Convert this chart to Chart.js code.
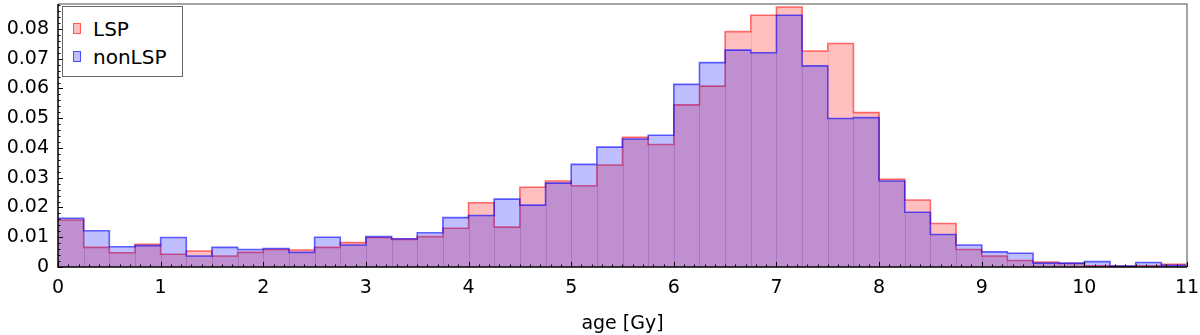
<!DOCTYPE html>
<html>
<head>
<meta charset="utf-8">
<script src="https://cdn.jsdelivr.net/npm/chart.js@4"></script>
<style>
  html, body { margin: 0; padding: 0; background: #fff; }
  #wrap { position: relative; width: 1200px; height: 335px; }
  #legend { position: absolute; left: 62px; top: 6px; width: 121px; height: 71px;
    border: 1.5px solid #666; background: #fff; font-family: "DejaVu Sans", sans-serif;
    font-size: 20px; color: #000; box-sizing: border-box; }
  .item { position: absolute; left: 10px; height: 24px; line-height: 24px; white-space: nowrap; }
  .sw { display: inline-block; width: 6px; height: 9px; border: 1.5px solid; vertical-align: middle; margin-right: 12px; position: relative; top: -2px; }
</style>
</head>
<body>
<div id="wrap">
  <canvas id="c" width="1200" height="335"></canvas>
  <div id="legend"></div>
</div>
<script>
// Bin left edges (Gy), bin width 0.25
const binStart = [0,0.25,0.5,0.75,1,1.25,1.5,1.75,2,2.25,2.5,2.75,3,3.25,3.5,3.75,4,4.25,4.5,4.75,
  5,5.25,5.5,5.75,6,6.25,6.5,6.75,7,7.25,7.5,7.75,8,8.25,8.5,8.75,9,9.25,9.5,9.75,10,10.25,10.5,10.75];
const binEnd = 11;
const lspValues = [0.0158,0.0066,0.0048,0.0076,0.0043,0.0054,0.0037,0.0049,0.0059,0.0057,
  0.0066,0.0082,0.0099,0.0093,0.0102,0.0130,0.0216,0.0134,0.0268,0.0289,
  0.0273,0.0343,0.0436,0.0412,0.0545,0.0608,0.0791,0.0846,0.0874,0.0726,
  0.0751,0.0519,0.0295,0.0225,0.0146,0.0059,0.0037,0.0022,0.0017,0.0012,
  0.0004,0.0003,0.0004,0.0009];
const nonLspValues = [0.0164,0.0122,0.0068,0.0072,0.0099,0.0037,0.0066,0.0059,0.0062,0.0049,
  0.0100,0.0074,0.0102,0.0095,0.0115,0.0166,0.0173,0.0228,0.0208,0.0282,
  0.0345,0.0403,0.0430,0.0443,0.0614,0.0687,0.0729,0.0720,0.0846,0.0676,
  0.0499,0.0502,0.0289,0.0184,0.0109,0.0074,0.0051,0.0046,0.0013,0.0013,
  0.0018,0.0003,0.0015,0.0006];
const xTicks = [0,1,2,3,4,5,6,7,8,9,10,11];
const yTicks = [0,0.01,0.02,0.03,0.04,0.05,0.06,0.07,0.08];
const seriesLabels = ['LSP', 'nonLSP'];
const xTitle = 'age [Gy]';

function stepData(vals) {
  const pts = binStart.map((x, i) => ({x: x, y: vals[i]}));
  pts.push({x: binEnd, y: vals[vals.length - 1]});
  return pts;
}

const FONT = {family: '"DejaVu Sans", sans-serif', size: 19};
const colors = [
  {line: 'rgba(255,0,0,0.55)', fill: 'rgba(255,0,0,0.25)', edge: 'rgba(200,0,0,0.10)'},
  {line: 'rgba(0,0,255,0.6)', fill: 'rgba(0,0,255,0.25)', edge: 'rgba(0,0,200,0.10)'}
];
const seriesVals = [lspValues, nonLspValues];

const decor = {
  id: 'decor',
  beforeDatasetsDraw(chart) {
    const ctx = chart.ctx, xs = chart.scales.x, ys = chart.scales.y;
    ctx.save();
    ctx.lineWidth = 1;
    seriesVals.forEach((vals, d) => {
      ctx.strokeStyle = colors[d].edge;
      for (let i = 1; i < binStart.length; i++) {
        const px = Math.round(xs.getPixelForValue(binStart[i])) + 0.5;
        const top = ys.getPixelForValue(Math.min(vals[i - 1], vals[i]));
        ctx.beginPath(); ctx.moveTo(px, ys.getPixelForValue(0)); ctx.lineTo(px, top); ctx.stroke();
      }
    });
    ctx.restore();
  },
  afterDatasetsDraw(chart) {
    const ctx = chart.ctx, a = chart.chartArea, xs = chart.scales.x, ys = chart.scales.y;
    ctx.save();
    ctx.strokeStyle = '#888'; ctx.lineWidth = 1.5;
    ctx.beginPath(); ctx.moveTo(a.left, a.top); ctx.lineTo(a.right, a.top); ctx.lineTo(a.right, a.bottom); ctx.stroke();
    ctx.strokeStyle = '#000'; ctx.lineWidth = 1;
    for (let v = 0; v <= 11.0001; v += 0.1) {
      const px = Math.round(xs.getPixelForValue(v)) + 0.5;
      const len = Math.abs(v - Math.round(v)) < 1e-6 ? 5 : 2.5;
      ctx.beginPath(); ctx.moveTo(px, a.bottom); ctx.lineTo(px, a.bottom - len); ctx.stroke();
    }
    for (let v = 0; v <= ys.max + 1e-9; v += 0.002) {
      const py = Math.round(ys.getPixelForValue(v)) + 0.5;
      const len = Math.abs(v / 0.01 - Math.round(v / 0.01)) < 1e-6 ? 5 : 2.5;
      ctx.beginPath(); ctx.moveTo(a.left, py); ctx.lineTo(a.left + len, py); ctx.stroke();
    }
    ctx.strokeStyle = '#000'; ctx.lineWidth = 1.5;
    ctx.beginPath(); ctx.moveTo(a.left, a.top); ctx.lineTo(a.left, a.bottom); ctx.lineTo(a.right, a.bottom); ctx.stroke();
    ctx.restore();
  }
};

new Chart(document.getElementById('c'), {
  type: 'line',
  data: {
    datasets: [0, 1].map(d => ({
      label: seriesLabels[d],
      data: stepData(seriesVals[d]),
      stepped: 'before',
      fill: 'origin',
      order: 2 - d,
      backgroundColor: colors[d].fill,
      borderColor: colors[d].line,
      borderWidth: 1.6,
      pointRadius: 0,
      tension: 0
    }))
  },
  options: {
    responsive: false,
    animation: false,
    layout: {padding: {left: 0, right: 13, top: 4, bottom: 0}},
    plugins: {legend: {display: false}, tooltip: {enabled: false}},
    scales: {
      x: {
        type: 'linear', min: 0, max: 11,
        afterBuildTicks: s => { s.ticks = xTicks.map(v => ({value: v})); },
        ticks: {font: FONT, color: '#000', padding: 10, maxRotation: 0, autoSkip: false},
        grid: {display: false, drawTicks: false},
        border: {display: false},
        title: {display: true, text: xTitle, font: FONT, color: '#000', padding: {top: 4, bottom: 0}},
        afterFit: s => { s.height = 68; s.paddingLeft = 0; s.paddingRight = 0; }
      },
      y: {
        min: 0, max: 0.0884,
        afterBuildTicks: s => { s.ticks = yTicks.map(v => ({value: v})); },
        ticks: {font: FONT, color: '#000', padding: 9, autoSkip: false,
          callback: v => v === 0 ? '0' : v.toFixed(2)},
        grid: {display: false, drawTicks: false},
        border: {display: false},
        afterFit: s => { s.width = 58; s.paddingTop = 0; s.paddingBottom = 0; }
      }
    }
  },
  plugins: [decor]
});

const lg = document.getElementById('legend');
seriesLabels.forEach((t, d) => {
  const it = document.createElement('div');
  it.className = 'item';
  it.style.top = (d === 0 ? 10 : 38) + 'px';
  const sw = document.createElement('span');
  sw.className = 'sw';
  sw.style.background = colors[d].fill;
  sw.style.borderColor = colors[d].line;
  it.appendChild(sw);
  it.appendChild(document.createTextNode(t));
  lg.appendChild(it);
});
</script>
</body>
</html>
